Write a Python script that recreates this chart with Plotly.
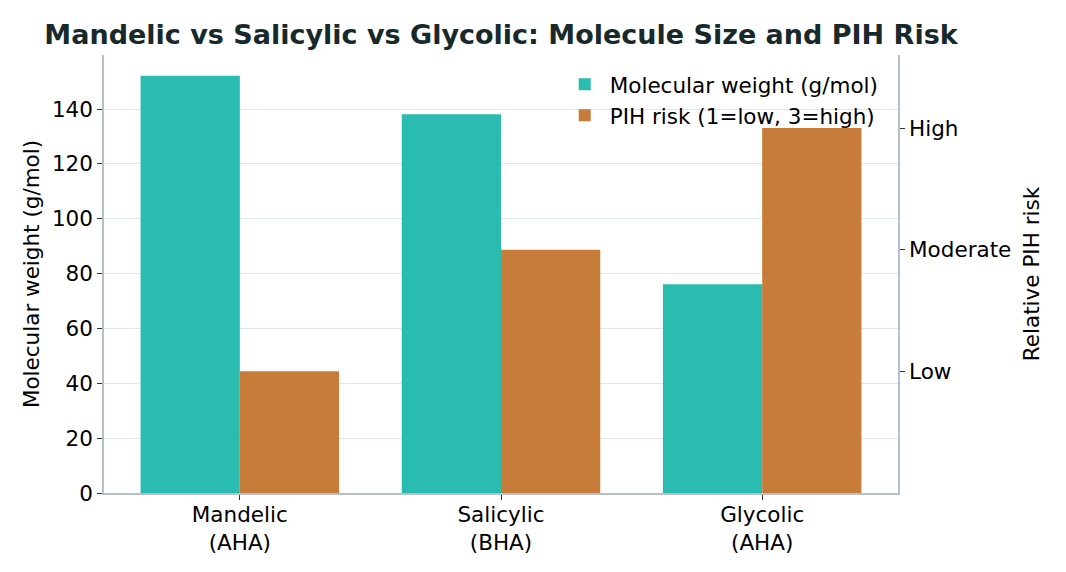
import plotly.graph_objects as go

categories = ["Mandelic<br>(AHA)", "Salicylic<br>(BHA)", "Glycolic<br>(AHA)"]
mol_weight = [152.1, 138.1, 76.1]
pih_risk = [1, 2, 3]
risk_ticks = [1, 2, 3]
risk_labels = ["Low", "Moderate", "High"]

TEAL = "#2abcb0"
ORANGE = "#c87c3a"
SPINE = "#b4c0d0"
GRID = "#dce8e6"
FONT = "DejaVu Sans"
FS = 21.5

pos = list(range(len(categories)))

fig = go.Figure()
fig.add_trace(go.Bar(
    x=pos, y=mol_weight, name="Molecular weight (g/mol)",
    marker=dict(color=TEAL, line=dict(width=0)),
    width=0.38, offset=-0.38, yaxis="y",
))
fig.add_trace(go.Bar(
    x=pos, y=pih_risk, name="PIH risk (1=low, 3=high)",
    marker=dict(color=ORANGE, line=dict(width=0)),
    width=0.38, offset=0, yaxis="y2",
))

fig.update_layout(
    width=1066, height=572,
    margin=dict(l=104, r=168, t=55, b=79),
    paper_bgcolor="white", plot_bgcolor="white",
    font=dict(family=FONT, size=FS, color="black"),
    barmode="overlay",
    title=dict(
        text="<b>Mandelic vs Salicylic vs Glycolic: Molecule Size and PIH Risk</b>",
        x=0.47, xanchor="center", y=0.94, yanchor="middle",
        font=dict(family=FONT, size=27, color="#17292b"),
    ),
    xaxis=dict(
        range=[-0.52, 2.52], tickmode="array", tickvals=pos, ticktext=categories,
        showline=True, linecolor=SPINE, linewidth=1.5, mirror=False,
        ticks="outside", ticklen=5, tickcolor="#333", showgrid=False, zeroline=False,
        tickfont=dict(size=FS), ticklabelstandoff=-4,
    ),
    yaxis=dict(
        range=[0, 159.7], tickmode="array", tickvals=[0, 20, 40, 60, 80, 100, 120, 140],
        showline=True, linecolor=SPINE, linewidth=1.5,
        ticks="outside", ticklen=5, tickcolor="#333",
        showgrid=True, gridcolor=GRID, gridwidth=1, zeroline=False,
        title=dict(text="Molecular weight (g/mol)", standoff=6, font=dict(size=FS)),
        tickfont=dict(size=FS),
    ),
    yaxis2=dict(
        range=[0, 3.6], overlaying="y", side="right", tickmode="array",
        tickvals=risk_ticks, ticktext=risk_labels,
        showline=True, linecolor=SPINE, linewidth=1.5,
        ticks="outside", ticklen=5, tickcolor="#333",
        showgrid=False, zeroline=False,
        title=dict(text="Relative PIH risk", standoff=14, font=dict(size=FS)),
        tickfont=dict(size=FS),
    ),
    legend=dict(
        x=0.982, xanchor="right", y=0.98, yanchor="top",
        bgcolor="rgba(0,0,0,0)", font=dict(size=FS), itemwidth=40,
        tracegroupgap=2,
    ),
    showlegend=True,
)

fig.write_html("out.html")
